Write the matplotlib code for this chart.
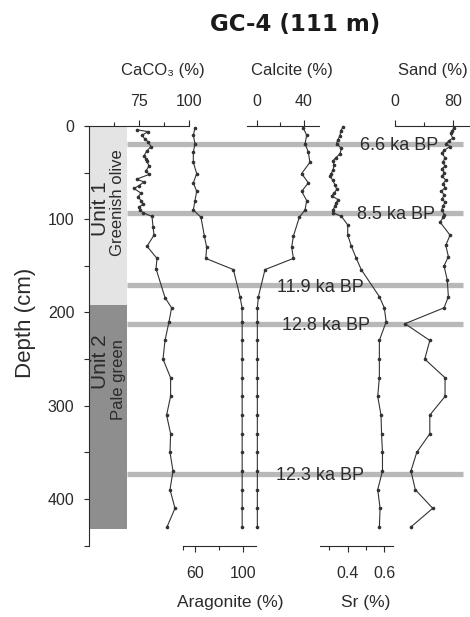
import matplotlib
matplotlib.use("Agg")
import matplotlib.pyplot as plt

# ---- data (depth in cm) ----
caco3_depth = [4, 6, 10, 14, 17, 22, 27, 32, 35, 38, 43, 48, 52, 57, 60, 64, 67, 72, 76, 80,
               84, 87, 90, 93, 97, 108, 117, 129, 142, 153, 184, 195, 210, 230, 250, 270, 290,
               310, 330, 350, 370, 390, 410, 430]
caco3 = [73.8, 79.5, 76.5, 78, 79.5, 81, 78.8, 77.5, 78.5, 79, 80, 78.5, 80, 73.8, 77.5, 75,
         72.5, 76, 74.5, 76, 77, 75, 75.5, 77, 81.5, 82, 82.5, 79, 84, 83.5, 88, 91.3, 90, 88,
         87, 90.8, 90.8, 88.8, 90.8, 90.5, 92, 90.5, 93, 89]

xrd_depth = [2, 10, 19, 28, 39, 51, 61, 70, 80, 90, 98, 118, 130, 142, 154, 183, 195, 210, 230,
             250, 270, 290, 310, 330, 350, 370, 390, 410, 430]
aragonite = [60, 58.6, 60, 58.6, 58.6, 61.4, 58.6, 61.4, 60, 58.6, 65, 67.8, 69.7, 69, 92, 97.5,
             99.2, 99.3, 99.3, 99.3, 99.3, 99.3, 99.3, 99.3, 99.3, 99.3, 99.3, 99.3, 99.3]
calcite = [39.4, 42.3, 40.9, 43.7, 45, 38, 43.7, 38, 42.3, 40.9, 36, 31, 29.5, 31, 6.8, 1.2,
           0.3, 0.3, 0.3, 0.3, 0.3, 0.3, 0.3, 0.3, 0.3, 0.3, 0.3, 0.3, 0.3]

sr_depth = [1, 5, 11, 15, 19, 24, 30, 34, 37, 42, 47, 51, 54, 58, 63, 68, 72, 75, 79, 83, 86, 90,
            93, 97, 106, 117, 129, 142, 154, 183, 195, 210, 230, 250, 270, 290, 310, 330, 350,
            370, 390, 410, 430]
sr = [0.375, 0.362, 0.357, 0.345, 0.339, 0.366, 0.357, 0.335, 0.32, 0.325, 0.32, 0.31, 0.303,
      0.318, 0.33, 0.34, 0.325, 0.312, 0.348, 0.335, 0.33, 0.32, 0.32, 0.366, 0.40, 0.40, 0.42,
      0.447, 0.474, 0.573, 0.60, 0.61, 0.573, 0.573, 0.573, 0.564, 0.582, 0.585, 0.59, 0.59,
      0.564, 0.577, 0.573]

sand_depth = [2, 5, 8, 13, 16, 19, 22, 26, 29, 34, 39, 43, 46, 50, 54, 58, 62, 66, 70, 74, 78,
              82, 86, 90, 95, 98, 103, 117, 128, 140, 150, 165, 183, 195, 212, 230, 250, 270,
              290, 310, 330, 350, 370, 390, 410, 430]
sand = [81.4, 79, 76.8, 79.5, 74, 70.3, 75.9, 68, 64.4, 69, 66, 69, 64.4, 68, 65, 70, 66, 69,
        64, 68, 65, 69, 66, 64.4, 68, 66.7, 62, 75.9, 70, 73.6, 67.6, 72, 73.6, 67.6, 13.8, 48,
        41, 69, 69, 48, 48, 30, 22, 28, 52, 22]

age_labels = ["6.6 ka BP", "8.5 ka BP", "11.9 ka BP", "12.8 ka BP", "12.3 ka BP"]
age_depth = [19, 93, 171, 212, 373]

unit_names = ["Unit 1", "Unit 2"]
unit_desc = ["Greenish olive", "Pale green"]
unit_top = [0, 192]
unit_base = [192, 432]
unit_colors = ["#e4e4e4", "#8e8e8e"]

# ---- layout (pixels of a 470x617 image) ----
W, H = 470, 617
Y0, Y1 = 126, 545.6          # depth 0 and depth 450
SANS = ["Liberation Sans", "DejaVu Sans"]
INK = "#2b2b2b"


def box(x0, x1):
    return [x0 / W, 1 - Y1 / H, (x1 - x0) / W, (Y1 - Y0) / H]


fig = plt.figure(figsize=(W / 100, H / 100), dpi=100)

# main depth axis
ax = fig.add_axes(box(89, 470))
ax.set_ylim(450, 0)
ax.set_xlim(0, 1)
for s in ["top", "right", "bottom"]:
    ax.spines[s].set_visible(False)
ax.spines["left"].set_color(INK)
ax.spines["left"].set_linewidth(0.8)
ax.set_xticks([])
ax.set_yticks([0, 100, 200, 300, 400])
ax.set_yticks([50, 150, 250, 350, 450], minor=True)
ax.tick_params(axis="y", which="both", direction="out", length=3.5, width=0.8,
               color=INK, pad=7, labelsize=11.5, labelcolor=INK)
for t in ax.get_yticklabels():
    t.set_family(SANS)
ax.set_ylabel("Depth (cm)", fontsize=16, family=SANS, color=INK, va="center", ha="center")
ax.yaxis.set_label_coords((25 - 89) / 381, (Y1 - 323) / (Y1 - Y0))

# lithological units
col_w = (127 - 89) / 381
for top, base, c in zip(unit_top, unit_base, unit_colors):
    ax.axhspan(top, base, xmin=0, xmax=col_w, color=c, lw=0, zorder=1)
ax.text((101 - 89) / 381, 89, unit_names[0], rotation=90, fontsize=15, family=SANS,
        color=INK, ha="center", va="center", zorder=3)
ax.text((118 - 89) / 381, 82, unit_desc[0], rotation=90, fontsize=12, family=SANS,
        color=INK, ha="center", va="center", zorder=3)
ax.text((101 - 89) / 381, 253, unit_names[1], rotation=90, fontsize=15, family=SANS,
        color=INK, ha="center", va="center", zorder=3)
ax.text((118 - 89) / 381, 272, unit_desc[1], rotation=90, fontsize=12, family=SANS,
        color=INK, ha="center", va="center", zorder=3)

# age horizons
label_px = [399, 396, 320, 326, 320]
ax.hlines(age_depth, (127 - 89) / 381, (463 - 89) / 381, color="#b8b8b8", lw=3.8,
          transform=ax.get_yaxis_transform(), zorder=2)
for lab, d, xp in zip(age_labels, age_depth, label_px):
    ax.text((xp - 89) / 381, d + 2, lab, fontsize=13, family=SANS, color=INK,
            ha="center", va="center", zorder=4)


def profile(x0, x1, xlim, depth, vals, side, major, major_lab, minor, label, lab_x, lab_y,
            lab_size):
    a = fig.add_axes(box(x0, x1))
    a.patch.set_visible(False)
    a.set_xlim(xlim)
    a.set_ylim(450, 0)
    a.yaxis.set_visible(False)
    for s in ["left", "right", "bottom" if side == "top" else "top"]:
        a.spines[s].set_visible(False)
    a.spines[side].set_color(INK)
    a.spines[side].set_linewidth(0.8)
    if side == "top":
        a.xaxis.tick_top()
        a.xaxis.set_label_position("top")
    a.set_xticks(major, labels=major_lab)
    a.set_xticks(minor, minor=True)
    a.tick_params(axis="x", which="major", direction="out", length=4.5, width=0.8,
                  color=INK, pad=7.5 if side == "top" else 10, labelsize=11.5,
                  labelcolor=INK)
    a.tick_params(axis="x", which="minor", direction="out", length=2.8, width=0.8, color=INK)
    for t in a.get_xticklabels():
        t.set_family(SANS)
    a.plot(vals, depth, "-o", color="#333333", lw=0.8, ms=1.6, clip_on=False, zorder=5)
    a.set_xlabel(label, fontsize=lab_size, family=SANS, color=INK, va="center", ha="center")
    a.xaxis.set_label_coords((lab_x - x0) / (x1 - x0), (Y1 - lab_y) / (Y1 - Y0))
    return a


profile(85, 189, (48, 100), caco3_depth, caco3, "top", [75, 100], ["75", "100"],
        [62.5, 87.5], "CaCO\u2083 (%)", 163, 71, 12)
profile(183, 256, (50, 110.83), xrd_depth, aragonite, "bottom", [60, 100], ["60", "100"],
        [50, 80], "Aragonite (%)", 230, 603, 12.5)
profile(247, 319, (-8.51, 52.77), xrd_depth, calcite, "top", [0, 40], ["0", "40"],
        [20], "Calcite (%)", 292, 71, 12)
profile(320, 393, (0.2486, 0.6475), sr_depth, sr, "bottom", [0.4, 0.6], ["0.4", "0.6"],
        [0.3, 0.5], "Sr (%)", 366, 603, 12.5)
profile(395, 470, (0, 103.4), sand_depth, sand, "top", [0, 80], ["0", "80"],
        [40], "Sand (%)", 433, 71, 12)

fig.text(295 / W, 1 - 24 / H, "GC-4 (111 m)", fontsize=16.5, fontweight="bold",
         family="DejaVu Sans", color="#1a1a1a", ha="center", va="center")

fig.savefig("out.png", dpi=100)
